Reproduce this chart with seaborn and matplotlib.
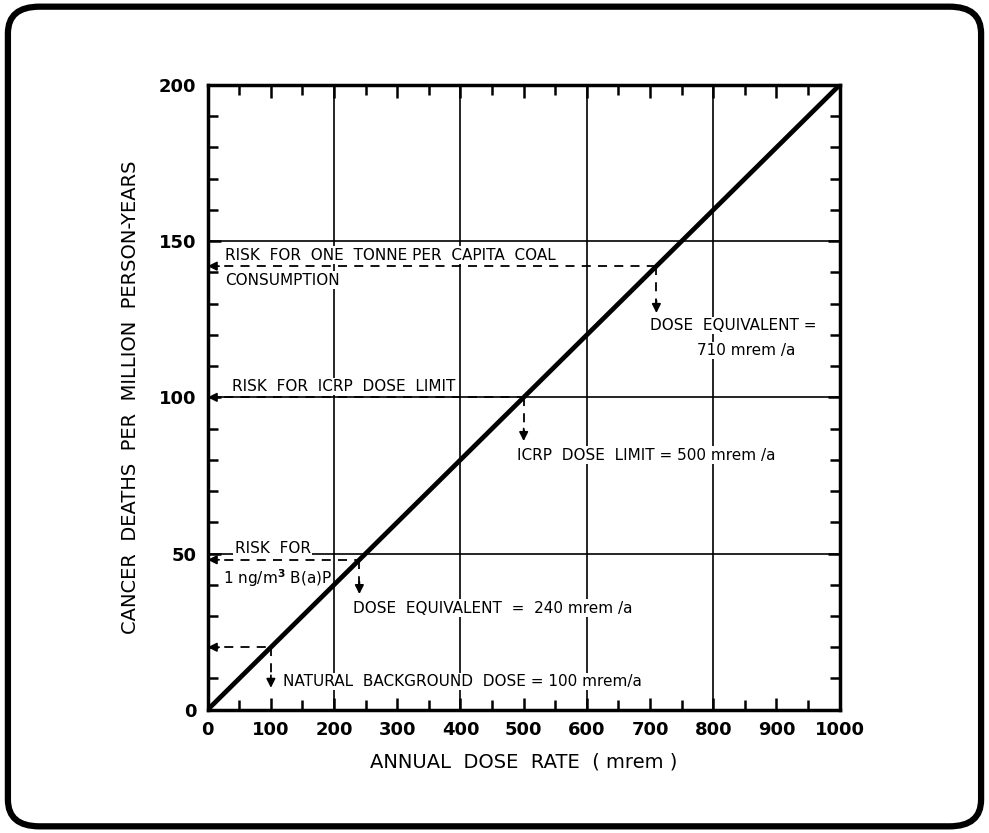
import matplotlib
matplotlib.use("Agg")
import matplotlib.pyplot as plt
from matplotlib.patches import FancyBboxPatch
import seaborn as sns

# data
dose = [0, 1000]
deaths = [0, 200]

mark_dose = [100, 240, 500, 710]
mark_risk = [20, 48, 100, 142]
drop_to = [7, 37, 86, 127]

x_ticks = [0, 100, 200, 300, 400, 500, 600, 700, 800, 900, 1000]
y_ticks = [0, 50, 100, 150, 200]
x_grid = [200, 400, 600, 800]
y_grid = [50, 100, 150]

sns.set_style("ticks")
plt.rcParams['font.family'] = ['DejaVu Sans']
plt.rcParams['text.color'] = 'black'
plt.rcParams['axes.labelcolor'] = 'black'
plt.rcParams['xtick.color'] = 'black'
plt.rcParams['ytick.color'] = 'black'

fig = plt.figure(figsize=(9.89, 8.33), dpi=100)
ax = fig.add_axes([0.210, 0.148, 0.639, 0.750])

# rounded frame around the whole figure
frame = FancyBboxPatch((0.008, 0.008), 0.984, 0.984,
                       boxstyle="round,pad=0,rounding_size=0.032",
                       transform=fig.transFigure, fill=False,
                       lw=4.5, ec="black")
fig.patches.append(frame)

for g in x_grid:
    ax.axvline(g, color="black", lw=1.2, zorder=1)
for g in y_grid:
    ax.axhline(g, color="black", lw=1.2, zorder=1)

sns.lineplot(x=dose, y=deaths, ax=ax, color="black", lw=3.4, zorder=5)

for xd, yr, yd in zip(mark_dose, mark_risk, drop_to):
    # horizontal dashed line back to the axis
    ax.plot([0, xd], [yr, yr], color="black", lw=1.3, ls=(0, (5, 4)), zorder=4)
    ax.annotate("", xy=(0, yr), xytext=(18, yr),
                arrowprops=dict(arrowstyle="-|>", color="black", lw=1.3,
                                mutation_scale=13, shrinkA=0, shrinkB=0),
                zorder=4)
    # vertical dashed drop
    ax.plot([xd, xd], [yr, yd + 3], color="black", lw=1.3, ls=(0, (5, 4)), zorder=4)
    ax.annotate("", xy=(xd, yd), xytext=(xd, yd + 4),
                arrowprops=dict(arrowstyle="-|>", color="black", lw=1.3,
                                mutation_scale=13, shrinkA=0, shrinkB=0),
                zorder=4)

tkw = dict(fontsize=11, color="black", zorder=3, va="center", ha="left",
           bbox=dict(facecolor="white", edgecolor="none", pad=1))
ax.text(27, 145.5, "RISK  FOR  ONE  TONNE PER  CAPITA  COAL", **tkw)
ax.text(27, 137.5, "CONSUMPTION", **tkw)
ax.text(700, 123, "DOSE  EQUIVALENT =", **tkw)
ax.text(774, 115, "710 mrem /a", **tkw)
ax.text(38, 103.5, "RISK  FOR  ICRP  DOSE  LIMIT", **tkw)
ax.text(490, 81.5, "ICRP  DOSE  LIMIT = 500 mrem /a", **tkw)
ax.text(43, 51.5, "RISK  FOR", **tkw)
ax.text(24, 42, "1 ng/m$^{\\mathbf{3}}$ B(a)P", **tkw)
ax.text(230, 32.5, "DOSE  EQUIVALENT  =  240 mrem /a", **tkw)
ax.text(119, 9, "NATURAL  BACKGROUND  DOSE = 100 mrem/a", **tkw)

ax.set_xlim(0, 1000)
ax.set_ylim(0, 200)
ax.set_xticks(x_ticks)
ax.set_yticks(y_ticks)
ax.set_xticks(range(50, 1000, 100), minor=True)
ax.set_yticks([v for v in range(0, 201, 10) if v % 50], minor=True)
ax.tick_params(which="both", direction="in", top=True, right=True,
               width=1.8, color="black", labelcolor="black")
ax.tick_params(which="major", length=9, labelsize=13, pad=8)
ax.tick_params(which="minor", length=7)
for lab in ax.get_xticklabels() + ax.get_yticklabels():
    lab.set_fontweight("bold")
for s in ax.spines.values():
    s.set_linewidth(2.5)
    s.set_color("black")

ax.set_xlabel("ANNUAL  DOSE  RATE  ( mrem )", fontsize=14, labelpad=10, color="black")
ax.set_ylabel("CANCER  DEATHS  PER  MILLION  PERSON-YEARS", fontsize=14, labelpad=14,
              color="black")

fig.savefig("out.png", dpi=100)
